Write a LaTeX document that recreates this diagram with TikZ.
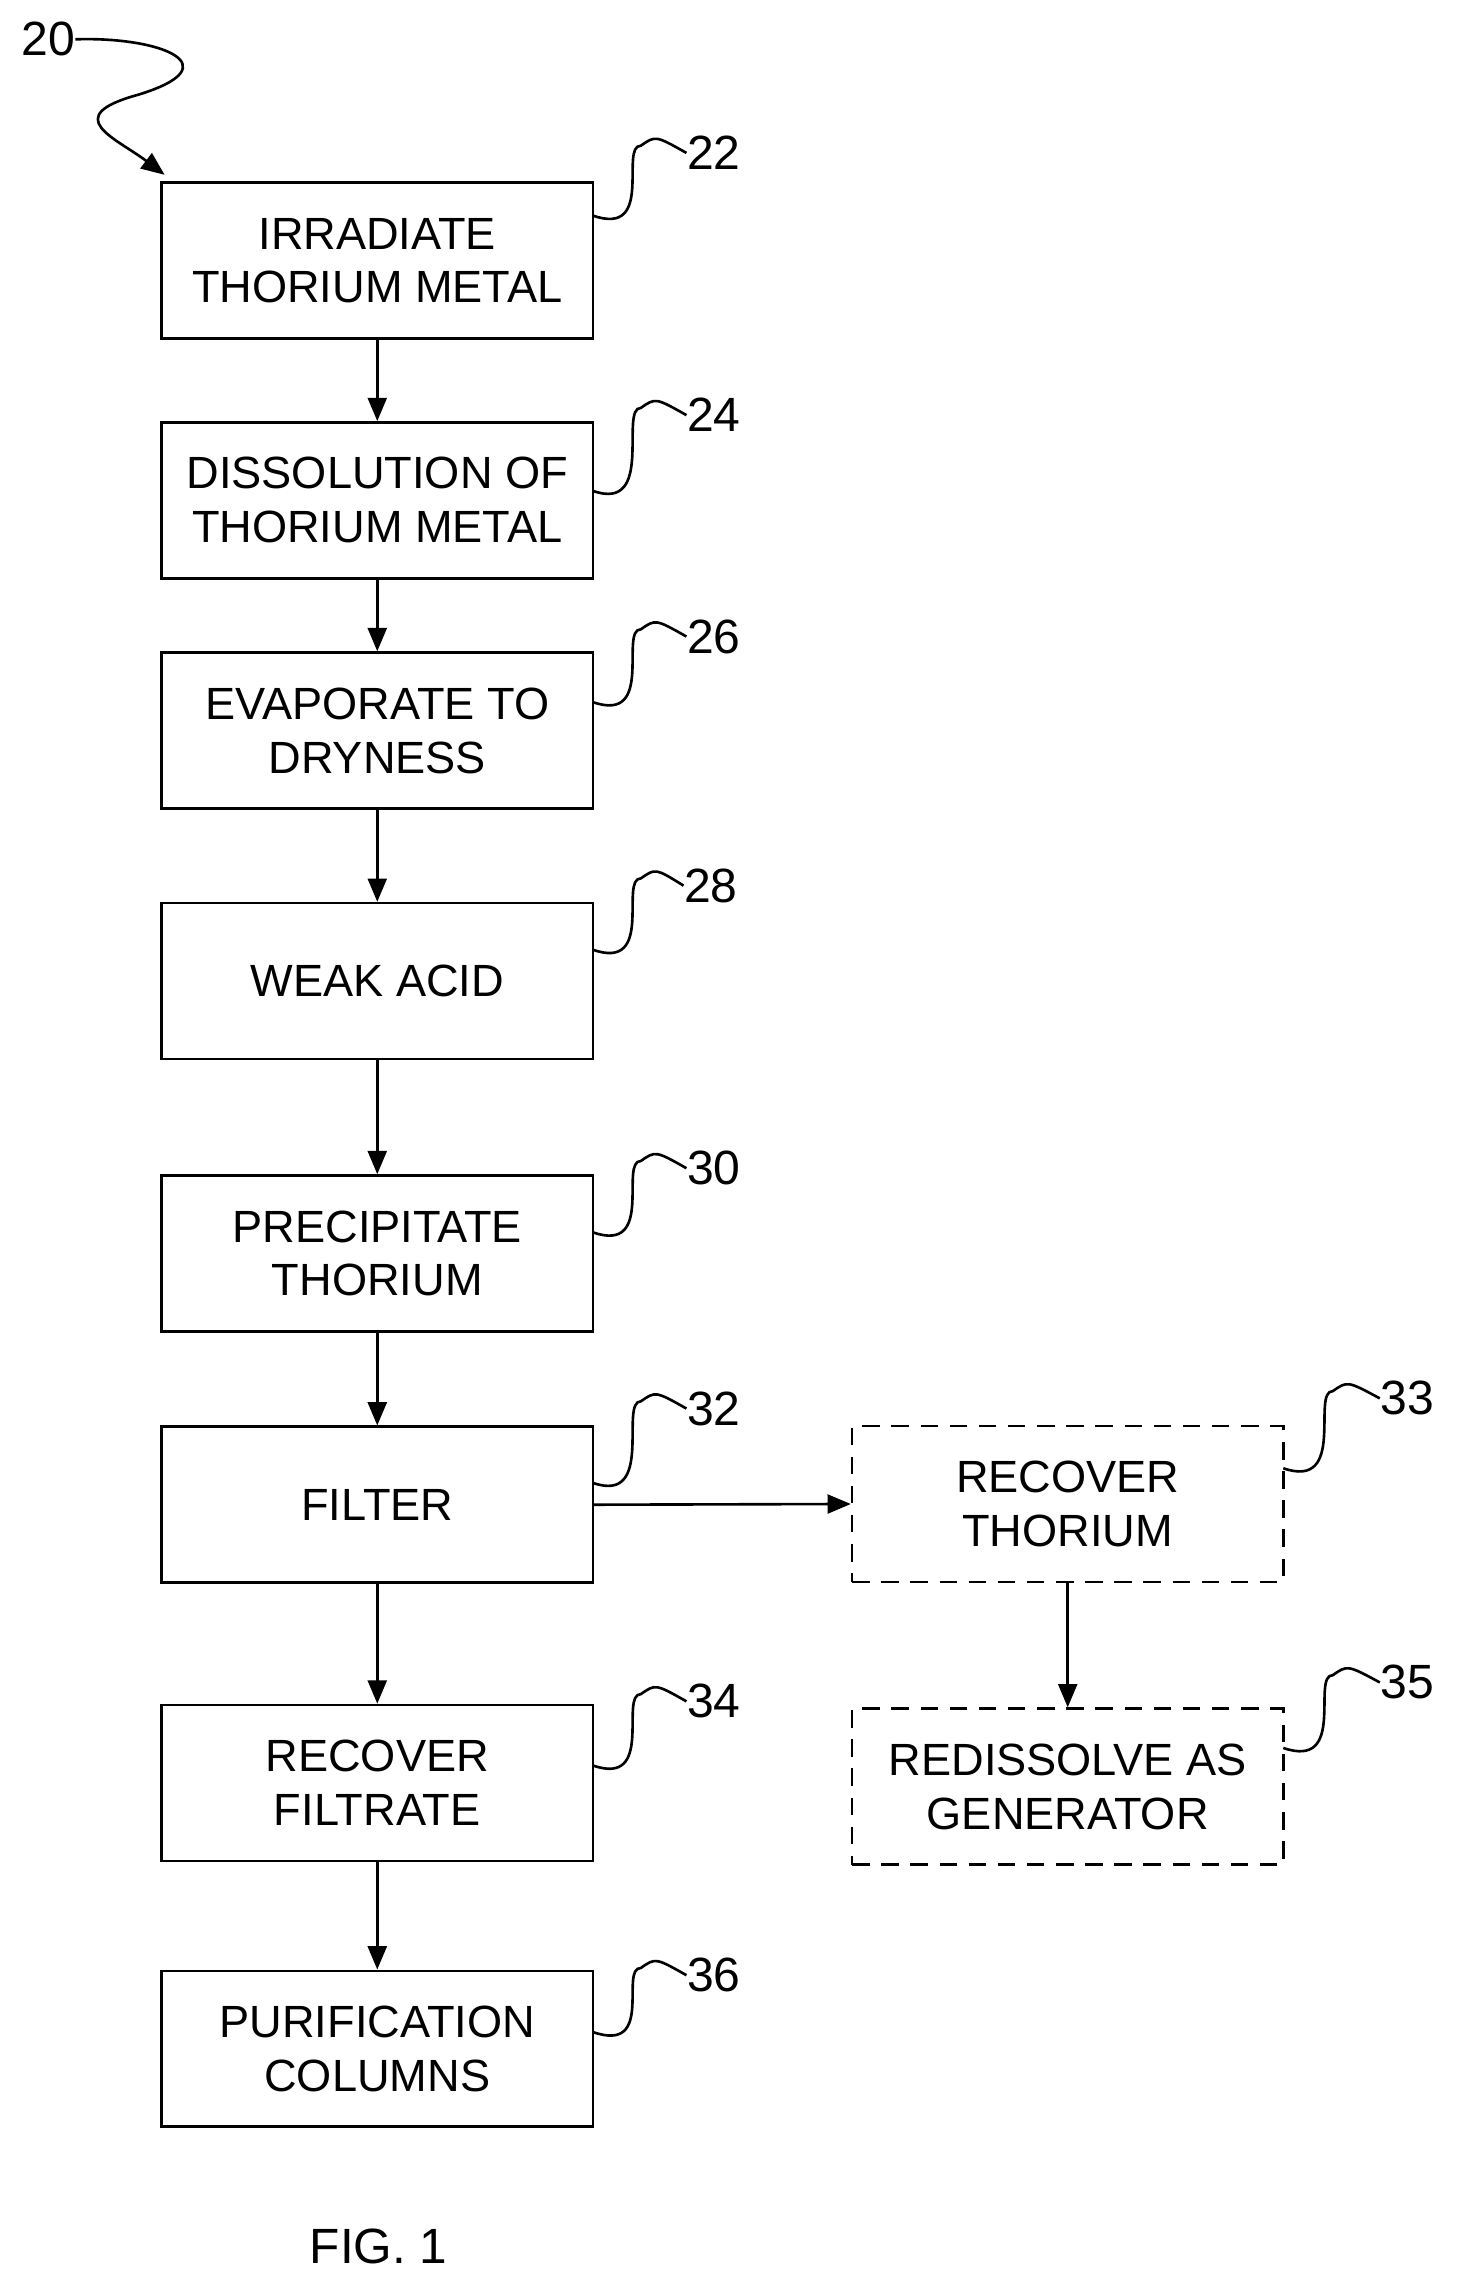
\documentclass[tikz,border=0pt]{standalone}
\usepackage{fontspec}
\setmainfont{Liberation Sans}
\usetikzlibrary{arrows.meta}
\begin{document}
\begin{tikzpicture}[x=0.5pt,y=-0.5pt,
 box/.style={draw,line width=0.9pt,minimum width=148pt,minimum height=53.5pt,align=center,inner sep=0pt,font=\fontsize{15.5}{18.5}\selectfont},
 dbox/.style={box,dash pattern=on 6pt off 4pt},
 lab/.style={font=\fontsize{16.5}{19}\selectfont,inner sep=0pt},
 arr/.style={line width=0.9pt,-{Triangle[length=8pt,width=6.5pt]}},
 sq/.style={line width=0.9pt}]
\useasboundingbox (0,0) rectangle (1000,1568);
\node[box] (b22) at (259,179) {IRRADIATE\\THORIUM METAL};
\node[box] (b24) at (259,343.5) {DISSOLUTION OF\\THORIUM METAL};
\node[box] (b26) at (259,501.5) {EVAPORATE TO\\DRYNESS};
\node[box] (b28) at (259,673.5) {WEAK ACID};
\node[box] (b30) at (259,860.5) {PRECIPITATE\\THORIUM};
\node[box] (b32) at (259,1033) {FILTER};
\node[box] (b34) at (259,1224) {RECOVER\\FILTRATE};
\node[box] (b36) at (259,1406.5) {PURIFICATION\\COLUMNS};
\node[dbox] (b33) at (733,1032.5) {RECOVER\\THORIUM};
\node[dbox] (b35) at (733,1226.5) {REDISSOLVE AS\\GENERATOR};
\draw[arr] (b22) -- (b24);
\draw[arr] (b24) -- (b26);
\draw[arr] (b26) -- (b28);
\draw[arr] (b28) -- (b30);
\draw[arr] (b30) -- (b32);
\draw[arr] (b32) -- (b34);
\draw[arr] (b34) -- (b36);
\draw[arr] (b32.east) -- (b33.west);
\draw[arr] (b33) -- (b35);
\foreach \n/\y/\t/\xl/\yl in {22/148/22/490/105, 24/337/24/490/285, 26/482/26/490/437, 28/652/28/488/608, 30/846/30/490/802, 32/1018/32/490/967, 34/1212/34/490/1168, 36/1395/36/490/1356}{
 \node[lab] (l\n) at (\xl,\yl) {\t};
 \draw[sq] (407,\y) .. controls (450,\y+15) and (425,\yl-5) .. (440,\yl-5) .. controls (450,\yl-12) .. (l\n.west);
}
\node[lab] (l33) at (966,960) {33};
\draw[sq] (881,1008) .. controls (925,1023) and (900,955) .. (915,955) .. controls (925,948) .. (l33.west);
\node[lab] (l35) at (966,1155) {35};
\draw[sq] (881,1200) .. controls (925,1215) and (900,1150) .. (915,1150) .. controls (925,1143) .. (l35.west);
\node[lab] (l20) at (33,27) {20};
\coordinate (t20) at (113,120);
\draw[sq,-{Triangle[length=8pt,width=6.5pt]}] (l20.east) .. controls (110,25) and (160,45) .. (95,65) .. controls (40,80) and (80,95) .. (t20);
\node[lab,font=\fontsize{17}{20}\selectfont] (fig) at (260,1542) {FIG. 1};
\end{tikzpicture}
\end{document}
